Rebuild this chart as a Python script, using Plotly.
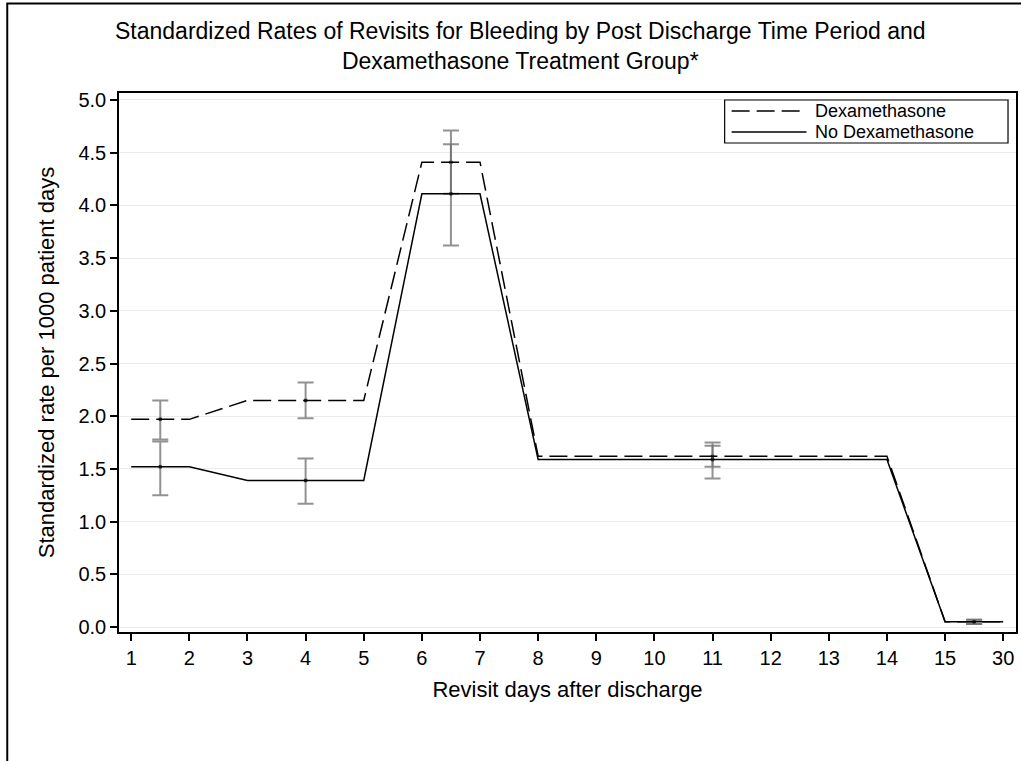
import plotly.graph_objects as go

# ---- data ----
day_labels = ["1", "2", "3", "4", "5", "6", "7", "8", "9", "10", "11", "12", "13", "14", "15", "30"]
period_start = [1, 3, 6, 8, 15]      # category index (1-based) where each period starts
period_end = [2, 5, 7, 14, 16]       # category index where each period ends
dexa_rate = [1.97, 2.15, 4.41, 1.62, 0.05]
dexa_lo = [1.78, 1.98, 4.11, 1.52, 0.03]
dexa_hi = [2.15, 2.32, 4.71, 1.72, 0.07]
nodexa_rate = [1.52, 1.39, 4.11, 1.59, 0.05]
nodexa_lo = [1.25, 1.17, 3.62, 1.41, 0.03]
nodexa_hi = [1.76, 1.60, 4.58, 1.75, 0.07]
y_ticks = [0.0, 0.5, 1.0, 1.5, 2.0, 2.5, 3.0, 3.5, 4.0, 4.5, 5.0]

FONT = "Liberation Sans, Arial, sans-serif"
W, H = 1021, 761
L, R, T, B = 119, 3, 93, 129
pw, ph = W - L - R, H - T - B


def px(x):
    return (x - L) / pw


def py(y):
    return 1 - (y - T) / ph


def step_xy(rates):
    xs, ys = [], []
    for s, e, r in zip(period_start, period_end, rates):
        xs += [s, e]
        ys += [r, r]
    return xs, ys


mids = [(s + e) / 2 for s, e in zip(period_start, period_end)]

fig = go.Figure()

dx, dy = step_xy(dexa_rate)
nx, ny = step_xy(nodexa_rate)

err_col = "rgba(110,110,110,0.75)"
fig.add_trace(go.Scatter(
    x=mids, y=dexa_rate, mode="markers",
    marker=dict(size=4, color="#333333"),
    error_y=dict(type="data", symmetric=False,
                 array=[h - r for h, r in zip(dexa_hi, dexa_rate)],
                 arrayminus=[r - l for l, r in zip(dexa_lo, dexa_rate)],
                 color=err_col, thickness=2, width=8),
    showlegend=False, hoverinfo="skip"))
fig.add_trace(go.Scatter(
    x=mids, y=nodexa_rate, mode="markers",
    marker=dict(size=4, color="#333333"),
    error_y=dict(type="data", symmetric=False,
                 array=[h - r for h, r in zip(nodexa_hi, nodexa_rate)],
                 arrayminus=[r - l for l, r in zip(nodexa_lo, nodexa_rate)],
                 color=err_col, thickness=2, width=8),
    showlegend=False, hoverinfo="skip"))

fig.add_trace(go.Scatter(x=dx, y=dy, mode="lines", name="Dexamethasone",
                         line=dict(color="black", width=1.5, dash="18px,7px"),
                         showlegend=False))
fig.add_trace(go.Scatter(x=nx, y=ny, mode="lines", name="No Dexamethasone",
                         line=dict(color="black", width=1.5),
                         showlegend=False))

shapes = [
    # outer frame (cropped on right/bottom)
    dict(type="rect", xref="paper", yref="paper",
         x0=px(7), x1=px(1100), y0=py(900), y1=py(3.5),
         line=dict(color="black", width=2), layer="below"),
    # legend box
    dict(type="rect", xref="paper", yref="paper",
         x0=px(726), x1=px(1010), y0=py(143), y1=py(100),
         line=dict(color="black", width=1.2), fillcolor="white"),
    dict(type="line", xref="paper", yref="paper",
         x0=px(733), x1=px(803), y0=py(111), y1=py(111),
         line=dict(color="black", width=1.5, dash="18px,7px")),
    dict(type="line", xref="paper", yref="paper",
         x0=px(733), x1=px(808), y0=py(132), y1=py(132),
         line=dict(color="black", width=1.5)),
]

annotations = [
    dict(text="Standardized Rates of Revisits for Bleeding by Post Discharge Time Period and<br>Dexamethasone Treatment Group*",
         xref="paper", yref="paper", x=px(521), y=py(45.5),
         xanchor="center", yanchor="middle", showarrow=False,
         font=dict(family=FONT, size=23, color="black")),
    dict(text="Dexamethasone", xref="paper", yref="paper", x=px(815), y=py(111),
         xanchor="left", yanchor="middle", showarrow=False,
         font=dict(family=FONT, size=18, color="black")),
    dict(text="No Dexamethasone", xref="paper", yref="paper", x=px(815), y=py(132),
         xanchor="left", yanchor="middle", showarrow=False,
         font=dict(family=FONT, size=18, color="black")),
]

fig.update_layout(
    width=W, height=H,
    margin=dict(l=L, r=R, t=T, b=B),
    paper_bgcolor="white", plot_bgcolor="white",
    shapes=shapes, annotations=annotations,
    font=dict(family=FONT, color="black"),
    xaxis=dict(
        range=[0.79, 16.22], tickmode="array",
        tickvals=list(range(1, len(day_labels) + 1)), ticktext=day_labels,
        showgrid=False, zeroline=False,
        showline=True, linecolor="black", linewidth=1.5, mirror=True,
        ticks="outside", ticklen=7, tickwidth=1.5, tickcolor="black",
        tickfont=dict(family=FONT, size=20),
        title=dict(text="Revisit days after discharge", font=dict(family=FONT, size=22), standoff=14),
    ),
    yaxis=dict(
        range=[-0.047, 5.066], tickmode="array",
        tickvals=y_ticks, ticktext=[f"{v:.1f}" for v in y_ticks],
        showgrid=True, gridcolor="#ebebeb", gridwidth=1, zeroline=False,
        showline=True, linecolor="black", linewidth=1.5, mirror=True,
        ticks="outside", ticklen=7, tickwidth=1.5, tickcolor="black",
        tickfont=dict(family=FONT, size=20),
        title=dict(text="Standardized rate per 1000 patient days", font=dict(family=FONT, size=22), standoff=18),
    ),
)

fig.write_html("out.html")
